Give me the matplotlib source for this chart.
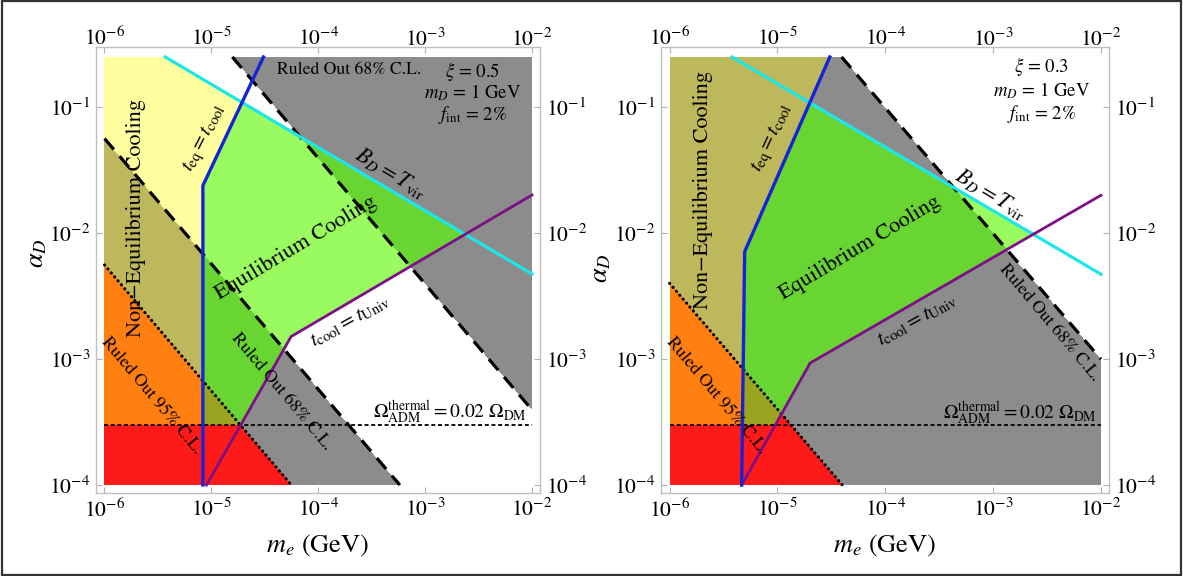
import numpy as np
import matplotlib
matplotlib.use('Agg')
import matplotlib.pyplot as plt
from matplotlib.colors import ListedColormap, BoundaryNorm
from matplotlib.patches import Rectangle
from matplotlib.ticker import NullLocator
from matplotlib.transforms import ScaledTranslation

plt.rcParams['font.family'] = ['STIXGeneral', 'DejaVu Serif']
plt.rcParams['mathtext.fontset'] = 'stix'

# ---------------- data ----------------
x_range = [1e-6, 1e-2]
y_range = [1e-4, 0.251]
x_ticks = [1e-6, 1e-5, 1e-4, 1e-3, 1e-2]
y_ticks = [1e-4, 1e-3, 1e-2, 1e-1]
omega_y = 3.0e-4

# left panel, xi = 0.5
L_cyan_x = [3.7e-6, 1e-2]
L_cyan_y = [0.251, 4.75e-3]
L_blue_x = [8.33e-6, 8.33e-6, 3.07e-5]
L_blue_y = [1e-4, 0.0239, 0.251]
L_purple_x = [9.0e-6, 5.57e-5, 1e-2]
L_purple_y = [1e-4, 1.51e-3, 2.01e-2]
L_dash_up_x = [1.57e-5, 1e-2]
L_dash_up_y = [0.251, 3.95e-4]
L_dash_lo_x = [1e-6, 5.8e-4]
L_dash_lo_y = [0.0565, 1e-4]
L_dot_x = [1e-6, 5.6e-5]
L_dot_y = [5.6e-3, 1e-4]

# right panel, xi = 0.3
R_cyan_x = [3.79e-6, 1e-2]
R_cyan_y = [0.251, 4.73e-3]
R_blue_x = [4.66e-6, 4.97e-6, 3.06e-5]
R_blue_y = [1e-4, 7.13e-3, 0.251]
R_purple_x = [4.66e-6, 2.01e-5, 1e-2]
R_purple_y = [1e-4, 9.3e-4, 2.0e-2]
R_dash_x = [3.94e-5, 1e-2]
R_dash_y = [0.251, 1.0e-3]
R_dot_x = [1e-6, 4.0e-5]
R_dot_y = [4.0e-3, 1e-4]

# colours: [regime none, non-eq, eq] x [allowed, 68%, 95%]
region_colors = ['#ffffff', '#8c8c8c', '#ff1a1a',
                 '#ffffa0', '#bdb85b', '#ff7f10',
                 '#99fb60', '#68d532', '#9ba420']

C_CYAN = '#1de5e8'
C_BLUE = '#1424d6'
C_PURPLE = '#7d0f86'


def poly(t, ts, vs):
    """piecewise-linear in log-log space with linear extrapolation"""
    lt = np.log10(ts)
    lv = np.log10(vs)
    out = np.interp(t, lt, lv)
    s0 = (lv[1] - lv[0]) / (lt[1] - lt[0])
    s1 = (lv[-1] - lv[-2]) / (lt[-1] - lt[-2])
    out = np.where(t < lt[0], lv[0] + s0 * (t - lt[0]), out)
    out = np.where(t > lt[-1], lv[-1] + s1 * (t - lt[-1]), out)
    return out


def classify(LX, LY, cyan, blue, purple, dot, dashes, left_panel):
    below_omega = LY < np.log10(omega_y)
    cy = poly(LX, *cyan)
    bx = poly(LY, blue[1], blue[0])
    py = poly(LX, *purple)
    dy = poly(LX, *dot)
    left_of_blue = LX < bx
    if left_panel:
        noneq = left_of_blue & (LY < cy)
    else:
        noneq = left_of_blue.copy()
    eq = (~left_of_blue) & (LY < cy) & (LY > py)
    noneq &= ~below_omega
    eq &= ~below_omega
    regime = np.zeros(LX.shape, int)
    regime[noneq] = 1
    regime[eq] = 2
    r95 = LY < dy
    if left_panel:
        up = poly(LX, *dashes[0])
        lo = poly(LX, *dashes[1])
        r68 = (LY > up) | (LY < lo)
    else:
        r68 = LY < poly(LX, *dashes[0])
    status = np.zeros(LX.shape, int)
    status[r68] = 1
    status[r95] = 2
    return regime * 3 + status


fig = plt.figure(figsize=(11.83, 5.76), dpi=100)
axL = fig.add_axes([96 / 1183, 1 - 493 / 576, 444 / 1183, 446 / 576])
axR = fig.add_axes([661 / 1183, 1 - 493 / 576, 448 / 1183, 446 / 576])

NX, NY = 900, 800
lx_e = np.linspace(np.log10(x_range[0]), np.log10(x_range[1]), NX + 1)
ly_e = np.linspace(np.log10(y_range[0]), np.log10(y_range[1]), NY + 1)
lx_c = 0.5 * (lx_e[1:] + lx_e[:-1])
ly_c = 0.5 * (ly_e[1:] + ly_e[:-1])
LX, LY = np.meshgrid(lx_c, ly_c)
cmap = ListedColormap(region_colors)
norm = BoundaryNorm(np.arange(-0.5, 9.5, 1), cmap.N)

panels = [
    (axL, (L_cyan_x, L_cyan_y), (L_blue_x, L_blue_y), (L_purple_x, L_purple_y),
     (L_dot_x, L_dot_y), [(L_dash_up_x, L_dash_up_y), (L_dash_lo_x, L_dash_lo_y)], True),
    (axR, (R_cyan_x, R_cyan_y), (R_blue_x, R_blue_y), (R_purple_x, R_purple_y),
     (R_dot_x, R_dot_y), [(R_dash_x, R_dash_y)], False),
]

for ax, cyan, blue, purple, dot, dashes, is_left in panels:
    ax.set_xscale('log')
    ax.set_yscale('log')
    cls = classify(LX, LY, cyan, blue, purple, dot, dashes, is_left)
    ax.pcolormesh(10 ** lx_e, 10 ** ly_e, cls, cmap=cmap, norm=norm,
                  shading='flat', antialiased=False, linewidth=0, zorder=1)
    ax.plot(x_range, [omega_y, omega_y], color='k', lw=1.3, dashes=(2.2, 1.5), zorder=3)
    ax.plot(dot[0], dot[1], color='k', lw=2.2, linestyle=(0, (0.1, 1.6)),
            dash_capstyle='round', zorder=3)
    for dx, dy in dashes:
        ax.plot(dx, dy, color='k', lw=2.3, dashes=(4.5, 2.8), zorder=3)
    ax.plot(cyan[0], cyan[1], color=C_CYAN, lw=2.3, zorder=4)
    ax.plot(purple[0], purple[1], color=C_PURPLE, lw=2.0, zorder=4)
    ax.plot(blue[0], blue[1], color=C_BLUE, lw=2.4, zorder=4)

    ax.set_xlim(10 ** -6.0795, 10 ** -1.925)
    ax.set_ylim(10 ** -4.0635, 10 ** -0.521)
    ax.set_xticks(x_ticks)
    ax.set_yticks(y_ticks)
    ax.xaxis.set_minor_locator(NullLocator())
    ax.yaxis.set_minor_locator(NullLocator())
    ax.tick_params(which='major', direction='in', length=4, width=0.8, color='#b0b0b0',
                   top=True, right=True, labeltop=True, labelright=True,
                   labelsize=15.5, pad=4)
    for tick in ax.xaxis.get_major_ticks():
        tick.label2.set_transform(tick.label2.get_transform()
                                  + ScaledTranslation(0, -0.09, fig.dpi_scale_trans))
    for sp in ax.spines.values():
        sp.set_color('#c0c0c0')
        sp.set_linewidth(1.0)
    ax.text(0.5, -0.119, '$m_e$ (GeV)', transform=ax.transAxes, ha='center', va='center',
            fontsize=19)

axL.text(-0.133, 0.538, r'$\alpha_D$', transform=axL.transAxes, ha='center', va='center',
         fontsize=19, rotation=90)
axR.text(-0.132, 0.505, r'$\alpha_D$', transform=axR.transAxes, ha='center', va='center',
         fontsize=19, rotation=90)


def T(ax, lx, ly, s, size, rot=0, **kw):
    ax.text(10 ** lx, 10 ** ly, s, fontsize=size, rotation=rot, ha='center', va='center',
            rotation_mode='anchor', zorder=5, **kw)


# left panel labels
T(axL, -3.712, -0.704, 'Ruled Out 68% C.L.', 12.7)
T(axL, -2.553, -0.712, r'$\xi$ = 0.5', 13.5)
T(axL, -2.553, -0.886, r'$m_D$ = 1 GeV', 13.5)
T(axL, -2.553, -1.061, r'$f_{\rm int}$ = 2%', 13.5)
T(axL, -5.055, -1.25, r'$t_{\rm eq}=t_{\rm cool}$', 15, 63)
T(axL, -3.318, -1.525, r'$B_D=T_{\rm vir}$', 16, -31)
T(axL, -4.209, -2.118, 'Equilibrium Cooling', 16, 31)
T(axL, -5.705, -1.879, 'Non\u2212Equilibrium Cooling', 16, 90)
T(axL, -3.703, -2.70, r'$t_{\rm cool}=t_{\rm Univ}$', 15, 29)
T(axL, -4.348, -3.261, 'Ruled Out 68% C.L.', 13, -50)
T(axL, -5.556, -3.293, 'Ruled Out 95% C.L.', 13, -50)
T(axL, -2.768, -3.42, r'$\Omega_{\rm ADM}^{\rm thermal}=0.02\ \Omega_{\rm DM}$', 14)

# right panel labels
T(axR, -2.547, -0.678, r'$\xi$ = 0.3', 13.5)
T(axR, -2.547, -0.868, r'$m_D$ = 1 GeV', 13.5)
T(axR, -2.547, -1.051, r'$f_{\rm int}$ = 2%', 13.5)
T(axR, -5.688, -1.653, 'Non\u2212Equilibrium Cooling', 16, 90)
T(axR, -5.045, -1.245, r'$t_{\rm eq}=t_{\rm cool}$', 15, 65)
T(axR, -3.024, -1.69, r'$B_D=T_{\rm vir}$', 16, -31)
T(axR, -4.232, -2.118, 'Equilibrium Cooling', 16, 31)
T(axR, -3.703, -2.69, r'$t_{\rm cool}=t_{\rm Univ}$', 15, 29)
T(axR, -2.477, -2.713, 'Ruled Out 68% C.L.', 13, -50)
T(axR, -5.568, -3.293, 'Ruled Out 95% C.L.', 13, -50)
T(axR, -2.756, -3.428, r'$\Omega_{\rm ADM}^{\rm thermal}=0.02\ \Omega_{\rm DM}$', 14)

fig.patches.append(Rectangle((0.0015, 0.002), 0.997, 0.996, transform=fig.transFigure,
                             fill=False, edgecolor='#333333', linewidth=1.6))

fig.savefig('out.png', dpi=100)
